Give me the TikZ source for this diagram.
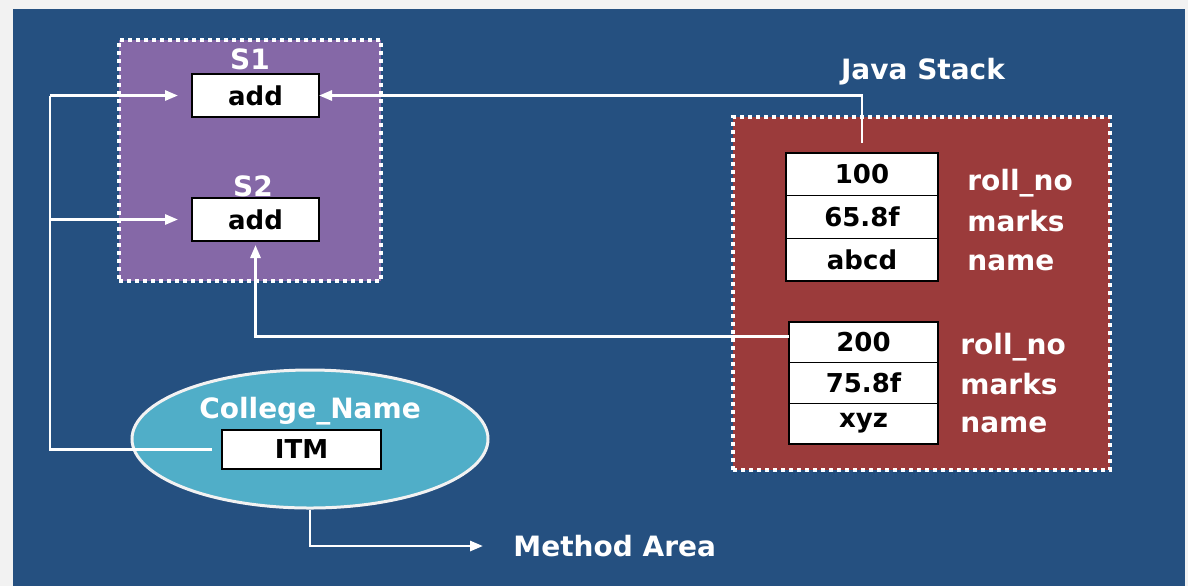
\documentclass[tikz,border=0pt]{standalone}
\usepackage{fontspec}
\setmainfont{DejaVu Sans}
\usetikzlibrary{positioning, arrows.meta, shapes.geometric}
\definecolor{slideblue}{RGB}{37,80,128}
\definecolor{slidegray}{RGB}{242,242,242}
\definecolor{heappurple}{RGB}{133,104,167}
\definecolor{stackred}{RGB}{155,59,59}
\definecolor{methodaqua}{RGB}{80,174,200}

\begin{document}
\begin{tikzpicture}[x=0.5pt, y=-0.5pt,
    area/.style={draw=white, line width=2.4pt, dash pattern=on 2.2pt off 1.8pt, inner sep=0pt},
    cell/.style={draw=black, line width=0.7pt, fill=white, inner sep=0pt, outer sep=0pt,
                 font=\fontsize{13}{15}\selectfont\bfseries},
    lbl/.style={text=white, inner sep=0pt, font=\fontsize{14}{16}\selectfont\bfseries},
    wire/.style={draw=white, line width=1.4pt},
    pointer/.style={wire, -{Triangle[length=6.5pt, width=5pt]}}]

    % Background
    \fill[slidegray] (0,0) rectangle (1188,586);
    \fill[slideblue] (13,9) rectangle (1185,586);
    \useasboundingbox (0,0) rectangle (1188,586);

    % Heap area with the two objects
    \node[area, fill=heappurple, minimum width=131pt, minimum height=120.5pt] (heap) at (250,160.5) {};
    \node[lbl] (s1) at (250,59) {S1};
    \node[cell, minimum width=63.5pt, minimum height=21.5pt] (add1) at (255.5,95.5) {add};
    \node[lbl] (s2) at (253,186) {S2};
    \node[cell, minimum width=63.5pt, minimum height=21.5pt] (add2) at (255.5,219.5) {add};

    % Java stack area
    \node[lbl] (jstack) at (923,72) {Java Stack};
    \node[area, fill=stackred, minimum width=188.5pt, minimum height=176.5pt] (jvs) at (921.5,293.5) {};

    % First frame
    \node[cell, minimum width=76pt, minimum height=21.33pt] (a1) at (862,174.3) {100};
    \node[cell, minimum width=76pt, minimum height=21.33pt, below=0pt of a1] (a2) {65.8f};
    \node[cell, minimum width=76pt, minimum height=21.33pt, below=0pt of a2] (a3) {abcd};
    \node[lbl, anchor=west] (a1n) at (967,183) {roll\_no};
    \node[lbl, anchor=west] (a2n) at (967,221) {marks};
    \node[lbl, anchor=west] (a3n) at (967,263) {name};

    % Second frame
    \node[cell, minimum width=74.5pt, minimum height=20.33pt] (b1) at (863.5,342.3) {200};
    \node[cell, minimum width=74.5pt, minimum height=20.33pt, below=0pt of b1] (b2) {75.8f};
    \node[cell, minimum width=74.5pt, minimum height=20.33pt, below=0pt of b2] (b3) {xyz};
    \node[lbl, anchor=west] (b1n) at (960,347) {roll\_no};
    \node[lbl, anchor=west] (b2n) at (960,384) {marks};
    \node[lbl, anchor=west] (b3n) at (960,425) {name};

    % Method area
    \node[ellipse, draw=slidegray, line width=1.5pt, fill=methodaqua, inner sep=0pt,
          minimum width=178pt, minimum height=69pt] (cname) at (310,439) {};
    \node[lbl] (cnamelbl) at (310,411) {College\_Name};
    \node[cell, minimum width=79.5pt, minimum height=19.5pt] (itm) at (301.5,449.5) {ITM};
    \node[lbl, anchor=west] (meth) at (513,546) {Method Area};

    % Static field shared by both objects
    \coordinate (trunk) at (50,95.5);
    \draw[wire] ([xshift=-5pt]itm.west) -| (trunk);
    \draw[pointer, shorten >=7pt] (trunk) -- (add1.west);
    \draw[pointer, shorten >=7pt] (trunk |- add2.west) -- (add2.west);

    % References from the stack
    \draw[pointer] ([yshift=5pt]a1.north) |- (add1.east);
    \draw[pointer, shorten >=2pt] ([yshift=3pt]b1.west) -| (add2.south);
    \draw[pointer, shorten >=15pt] (cname.south) |- (meth.west);

\end{tikzpicture}
\end{document}
